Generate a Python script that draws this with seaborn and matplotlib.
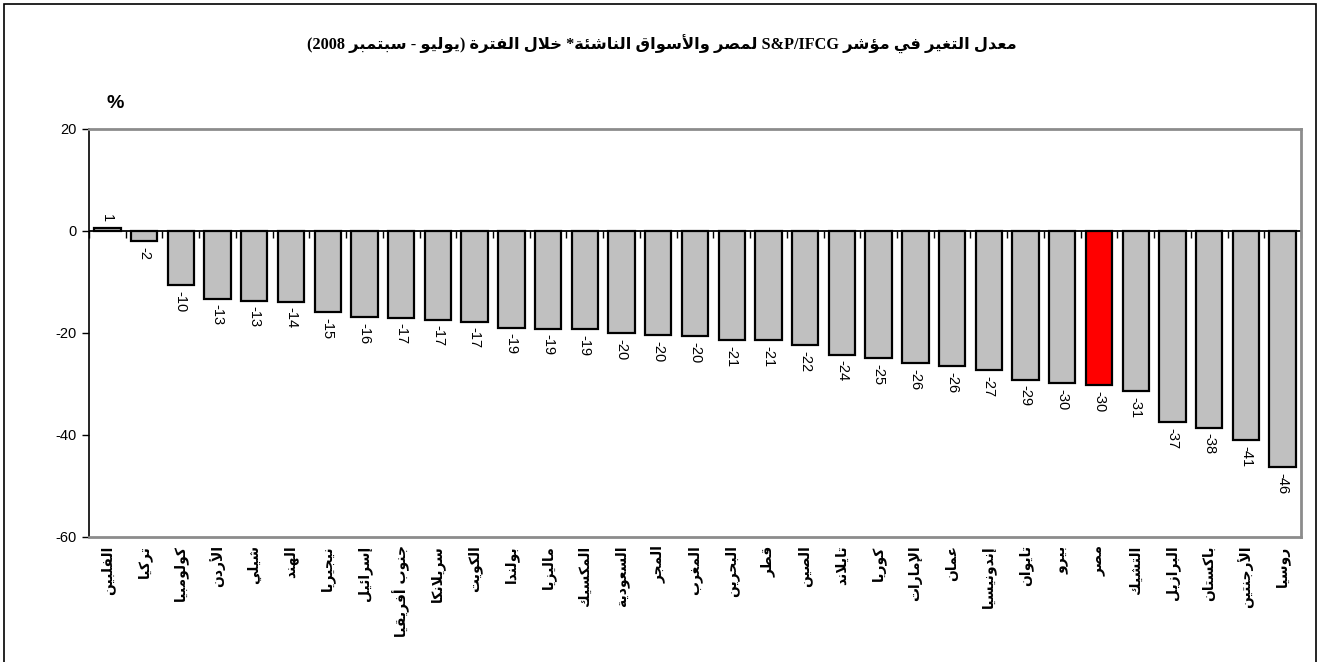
import re
import numpy as np
import pandas as pd
import matplotlib
matplotlib.use("Agg")
import matplotlib.pyplot as plt
import matplotlib.patches as mpatches
import seaborn as sns

# بيانات الشكل
countries = ['الفلبين', 'تركيا', 'كولومبيا', 'الأردن', 'شيلي', 'الهند', 'نيجيريا',
             'إسرائيل', 'جنوب أفريقيا', 'سريلانكا', 'الكويت', 'بولندا', 'ماليزيا',
             'المكسيك', 'السعودية', 'المجر', 'المغرب', 'البحرين', 'قطر', 'الصين',
             'تايلاند', 'كوريا', 'الإمارات', 'عمان', 'إندونيسيا', 'تايوان', 'بيرو',
             'مصر', 'التشيك', 'البرازيل', 'باكستان', 'الأرجنتين', 'روسيا']
change = [0.6, -2.0, -10.6, -13.3, -13.7, -13.9, -15.9, -16.9, -17.0, -17.4, -17.8,
          -19.0, -19.2, -19.3, -20.0, -20.4, -20.6, -21.4, -21.4, -22.4, -24.3, -24.9,
          -25.9, -26.5, -27.3, -29.2, -29.8, -30.2, -31.4, -37.5, -38.6, -41.0, -46.3]
value_labels = ['1', '-2', '-10', '-13', '-13', '-14', '-15', '-16', '-17', '-17', '-17',
                '-19', '-19', '-19', '-20', '-20', '-20', '-21', '-21', '-22', '-24', '-25',
                '-26', '-26', '-27', '-29', '-30', '-30', '-31', '-37', '-38', '-41', '-46']
highlight = 'مصر'
title = 'معدل التغير في مؤشر S&P/IFCG لمصر والأسواق الناشئة* خلال الفترة (يوليو - سبتمبر 2008)'

# تشكيل الحروف العربية يدويا (matplotlib لا يقوم بذلك)
FORMS = {'ء': (0xFE80, 1), 'آ': (0xFE81, 2), 'أ': (0xFE83, 2), 'ؤ': (0xFE85, 2),
         'إ': (0xFE87, 2), 'ئ': (0xFE89, 4), 'ا': (0xFE8D, 2), 'ب': (0xFE8F, 4),
         'ة': (0xFE93, 2), 'ت': (0xFE95, 4), 'ث': (0xFE99, 4), 'ج': (0xFE9D, 4),
         'ح': (0xFEA1, 4), 'خ': (0xFEA5, 4), 'د': (0xFEA9, 2), 'ذ': (0xFEAB, 2),
         'ر': (0xFEAD, 2), 'ز': (0xFEAF, 2), 'س': (0xFEB1, 4), 'ش': (0xFEB5, 4),
         'ص': (0xFEB9, 4), 'ض': (0xFEBD, 4), 'ط': (0xFEC1, 4), 'ظ': (0xFEC5, 4),
         'ع': (0xFEC9, 4), 'غ': (0xFECD, 4), 'ف': (0xFED1, 4), 'ق': (0xFED5, 4),
         'ك': (0xFED9, 4), 'ل': (0xFEDD, 4), 'م': (0xFEE1, 4), 'ن': (0xFEE5, 4),
         'ه': (0xFEE9, 4), 'و': (0xFEED, 2), 'ى': (0xFEEF, 2), 'ي': (0xFEF1, 4)}
LAM_ALEF = {'آ': 0xFEF5, 'أ': 0xFEF7, 'إ': 0xFEF9, 'ا': 0xFEFB}


def shape(text):
    out = []
    i = 0
    n = len(text)
    while i < n:
        c = text[i]
        if c not in FORMS:
            out.append(c)
            i += 1
            continue
        prev = text[i - 1] if i > 0 else None
        jp = prev in FORMS and FORMS[prev][1] == 4
        nxt = text[i + 1] if i + 1 < n else None
        if c == 'ل' and nxt in LAM_ALEF:
            out.append(chr(LAM_ALEF[nxt] + (1 if jp else 0)))
            i += 2
            continue
        base, nf = FORMS[c]
        jn = nf == 4 and nxt in FORMS
        if nf == 1:
            code = base
        elif jp and jn:
            code = base + 3
        elif jp:
            code = base + 1
        elif jn:
            code = base + 2
        else:
            code = base
        out.append(chr(code))
        i += 1
    vis = ''.join(out)[::-1]
    vis = re.sub(r'[A-Za-z0-9&/]+', lambda m: m.group(0)[::-1], vis)
    vis = vis.translate(str.maketrans('()', ')('))
    return vis


sns.set_theme(style="white")
plt.rcParams['font.family'] = ['Liberation Sans', 'DejaVu Sans']
plt.rcParams['axes.unicode_minus'] = False
plt.rcParams['text.color'] = 'black'
plt.rcParams['xtick.color'] = 'black'
plt.rcParams['ytick.color'] = 'black'
plt.rcParams['axes.labelcolor'] = 'black'

df = pd.DataFrame({"country": [shape(c) for c in countries], "change": change})
palette = {shape(c): ('#FF0000' if c == highlight else '#C0C0C0') for c in countries}

fig = plt.figure(figsize=(13.23, 6.62), dpi=100)
ax = fig.add_axes([89 / 1323, 1 - 537 / 662, (1301 - 89) / 1323, (537 - 129) / 662])

sns.barplot(data=df, x="country", y="change", hue="country", palette=palette,
            order=df["country"], legend=False, width=0.72, edgecolor='black',
            linewidth=1.6, saturation=1, ax=ax)

for cont in ax.containers:
    idx = [int(round(b.get_x() + b.get_width() / 2)) for b in cont]
    ax.bar_label(cont, labels=[value_labels[k] for k in idx], rotation=-90,
                 padding=4, fontsize=10.5, color='black')

ymin, ymax = -60, 20
ax.set_ylim(ymin, ymax)
ax.set_xlim(-0.5, len(countries) - 0.5)
ax.set_yticks([-60, -40, -20, 0, 20])
ax.tick_params(axis='y', direction='out', length=5, width=1, labelsize=10.5,
               colors='black', left=True, pad=4)
ax.tick_params(axis='x', length=0, pad=6, colors='black')
ax.set_xticks(range(len(countries)))
ax.set_xticklabels(df["country"], rotation=90, fontsize=10, fontweight='bold',
                   family=['DejaVu Sans'])
ax.set_xlabel("")
ax.set_ylabel("")
for s in ['top', 'right', 'bottom']:
    ax.spines[s].set_color('#8C8C8C')
    ax.spines[s].set_linewidth(2)
ax.spines['left'].set_color('black')
ax.spines['left'].set_linewidth(1.2)

# خط الصفر مع علامات بين الأعمدة
ax.axhline(0, color='black', lw=1.3, zorder=1)
zero_axis = ax.secondary_xaxis((0 - ymin) / (ymax - ymin))
zero_axis.set_alignment('bottom')
zero_axis.set_xticks(np.arange(len(countries) + 1) - 0.5, labels=[])
zero_axis.tick_params(direction='out', length=5, width=1, colors='black')
zero_axis.spines['bottom'].set_visible(False)

fig.text(0.5, 1 - 44 / 662, shape(title), ha='center', va='center', fontsize=11.7,
         fontweight='bold', color='black', family=['Liberation Serif', 'DejaVu Sans'])
fig.text(115 / 1323, 1 - 103 / 662, '%', ha='center', va='center', fontsize=14,
         fontweight='bold', color='black')

border = mpatches.Rectangle((4 / 1323, -0.05), 1312 / 1323, 1.05 - 4 / 662,
                            transform=fig.transFigure, fill=False, edgecolor='black',
                            lw=1.2, clip_on=False)
fig.patches.append(border)

plt.savefig("out.png", dpi=100)
plt.close()
